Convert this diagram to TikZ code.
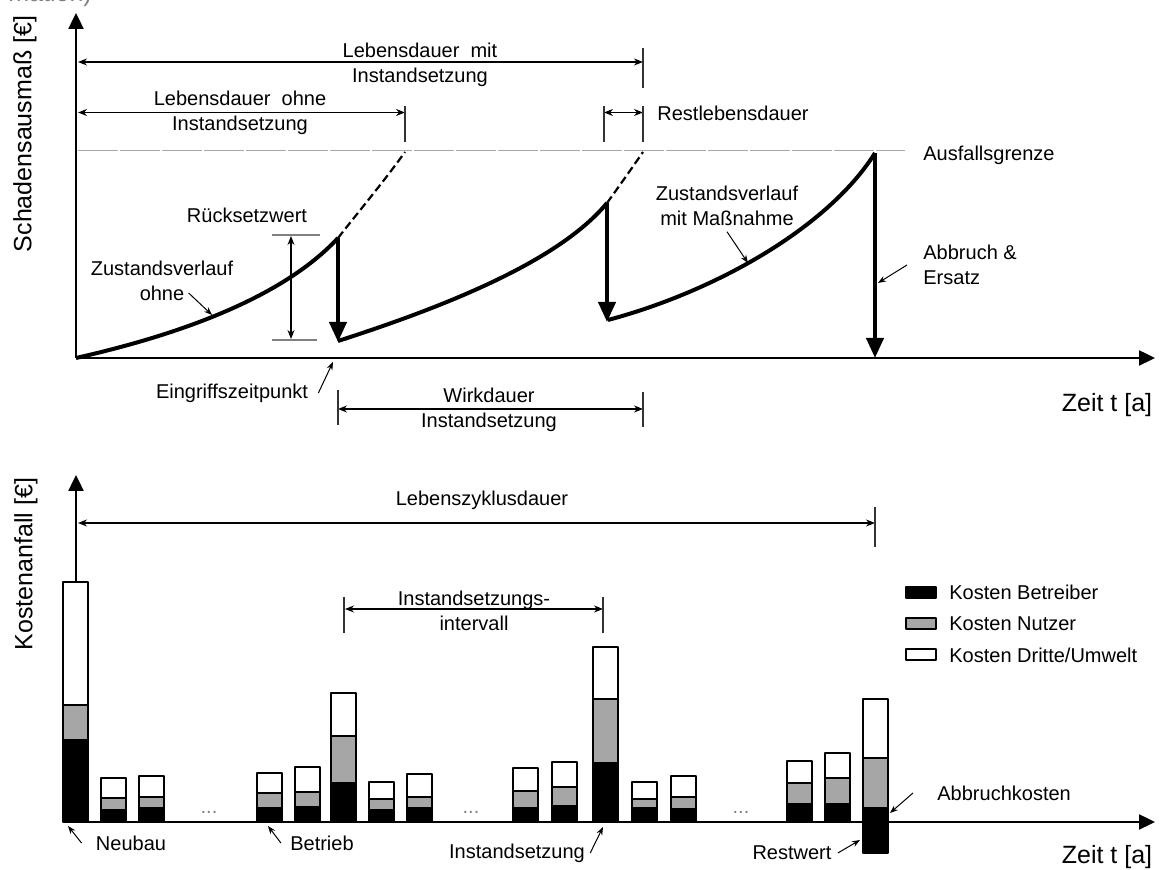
\documentclass[tikz,border=0pt]{standalone}
\usepackage{fontspec}
\setmainfont{Liberation Sans}
\usetikzlibrary{arrows.meta,positioning}
\tikzset{
  lbl/.style={font=\fontsize{10}{12.5}\selectfont, inner sep=0pt, align=center},
  big/.style={font=\fontsize{12.5}{15}\selectfont, inner sep=0pt},
  axis/.style={line width=1.2pt, -{Triangle[length=8pt,width=7.5pt]}},
  dim/.style={line width=0.6pt, {Stealth[length=4.5pt,width=3.5pt]}-{Stealth[length=4.5pt,width=3.5pt]}},
  tick/.style={line width=0.6pt, black!80},
  curve/.style={line width=2pt},
  ext/.style={line width=1.1pt, dash pattern=on 4pt off 2pt},
  drop/.style={line width=2pt, -{Triangle[length=10pt,width=8.5pt]}},
  ptr/.style={line width=0.5pt, -{Stealth[length=4pt,width=3pt]}},
  betr/.style={draw, line width=1pt, fill=black},
  nutz/.style={draw, line width=1pt, fill=black!35},
  dritt/.style={draw, line width=1pt, fill=white},
  legbox/.style={draw, line width=1pt, minimum width=15pt, minimum height=5.5pt, inner sep=0pt},
}
\begin{document}
\begin{tikzpicture}[x=0.5pt, y=-0.5pt, line join=round]
\useasboundingbox (0,0) rectangle (1169,870);
\node[big, gray, anchor=base west] (capt) at (8,2) {mation)};

% Schadensverlauf
\coordinate (o1) at (76,358);
\draw[axis] (o1) -- (76,13);
\draw[axis] (o1) -- (1155,358);
\node[big, rotate=90] (ylab1) at (25,134) {Schadensausmaß [€]};
\node[big] (zeit1) at (1107,405) {Zeit t [a]};

\draw[gray!70, line width=0.5pt, dash pattern=on 20pt off 1pt] (78,151) -- (905,151);
\node[lbl, anchor=west] (ausf) at (923,155) {Ausfallsgrenze};

\draw[dim] (78,62) -- (643,62);
\draw[tick] (643,48) -- (643,88);
\node[lbl] (lmit) at (420,64.5) {Lebensdauer\ \ mit\\Instandsetzung};
\draw[dim] (78,112.5) -- (405,112.5);
\draw[tick] (405,106) -- (405,142);
\node[lbl] (lohne) at (240,112.5) {Lebensdauer\ \ ohne\\Instandsetzung};
\draw[dim] (604,112.5) -- (643,112.5);
\draw[tick] (604,106) -- (604,142) (643,106) -- (643,142);
\node[lbl, anchor=west] (rest) at (657,113) {Restlebensdauer};

\draw[curve] (o1) .. controls (200,330) and (290,290) .. (338,238);
\draw[ext] (338,238) .. controls (360,210) and (385,180) .. (405,152);
\draw[drop] (338,238) -- (338,342);
\draw[curve] (338,341) .. controls (450,305) and (560,260) .. (607,203);
\draw[ext] (607,203) .. controls (620,185) and (632,168) .. (643,152);
\draw[drop] (607,203) -- (607,322);
\draw[curve] (608,320) .. controls (720,290) and (830,225) .. (875,153);
\draw[drop] (875,153) -- (875,358);

\draw[tick, gray] (272,235) -- (320,235) (272,340) -- (317,340);
\draw[dim] (291,236) -- (291,339);
\node[lbl] (rueck) at (247,215) {Rücksetzwert};

\node[lbl] (zohne) at (162,268) {Zustandsverlauf};
\node[lbl] (zohne2) at (162,293) {ohne};
\coordinate (pz1) at (212,315);
\draw[ptr] ([xshift=2pt]zohne2.east) -- (pz1);

\node[lbl] (zmit) at (727,205.5) {Zustandsverlauf\\mit Maßnahme};
\coordinate (pz3) at (748,263);
\draw[ptr] ([yshift=-3pt]zmit.south) -- (pz3);

\node[lbl, align=left, anchor=west] (abbr) at (923,265) {Abbruch \&\\Ersatz};
\coordinate (pab) at (878,283);
\draw[ptr] ([xshift=-8pt]abbr.west) -- (pab);

\node[lbl] (eingr) at (232,393) {Eingriffszeitpunkt};
\coordinate (pein) at (333,362);
\draw[ptr] ([xshift=5pt]eingr.east) -- (pein);

\draw[dim] (338,409) -- (643,409);
\draw[tick] (338,390) -- (338,425) (643,392) -- (643,427);
\node[lbl] (wirk) at (489,410) {Wirkdauer\\Instandsetzung};

% Kostenanfall
\coordinate (o2) at (76,822);
\draw[axis] (o2) -- (76,475);
\draw[axis] (63,822) -- (1155,822);
\node[big, rotate=90] (ylab2) at (26,564) {Kostenanfall [€]};
\node[big] (zeit2) at (1107,857) {Zeit t [a]};

\draw[dim] (78,523) -- (875,523);
\draw[tick] (875,507) -- (875,547);
\node[lbl] (lzd) at (482,500) {Lebenszyklusdauer};
\draw[dim] (345,609) -- (603,609);
\draw[tick] (344,597) -- (344,633) (603,597) -- (603,633);
\node[lbl] (isi) at (474,611) {Instandsetzungs-\\intervall};

\foreach \x/\t/\g/\b/\u in {63/582/705/740/822, 101/778/798/810/822, 139/776/797/808/822,
  257/773/793/808/822, 295/767/792/807/822, 331/693/736/783/822, 369/782/799/810/822,
  407/774/797/808/822, 513/768/791/808/822, 552/762/787/806/822, 593/647/699/763/822,
  632/782/799/808/822, 671/776/797/809/822, 787/761/783/804/822, 825/753/778/804/822,
  863/699/758/808/853}{
  \draw[dritt] (\x,\t) rectangle (\x+25,\g);
  \draw[nutz] (\x,\g) rectangle (\x+25,\b);
  \draw[betr] (\x,\b) rectangle (\x+25,\u);
}
\node[lbl, gray] (dots1) at (209,812) {...};
\node[lbl, gray] (dots2) at (471,812) {...};
\node[lbl, gray] (dots3) at (741,812) {...};

\node[legbox, fill=black] (lgb) at (921,592.5) {};
\node[legbox, fill=black!35] (lgn) at (921,623.5) {};
\node[legbox, fill=white] (lgd) at (921,655) {};
\node[lbl, right=6pt of lgb] (tgb) {Kosten Betreiber};
\node[lbl, right=6pt of lgn] (tgn) {Kosten Nutzer};
\node[lbl, right=6pt of lgd] (tgd) {Kosten Dritte/Umwelt};

\node[lbl] (neub) at (131,843) {Neubau};
\coordinate (pneu) at (68,826);
\draw[ptr] ([xshift=-7pt]neub.west) -- (pneu);
\node[lbl] (betrieb) at (322,843) {Betrieb};
\coordinate (pbet) at (268,826);
\draw[ptr] ([xshift=-4.5pt]betrieb.west) -- (pbet);
\node[lbl] (inst) at (517,853) {Instandsetzung};
\coordinate (pins) at (603,827);
\draw[ptr] ([xshift=2.5pt]inst.east) -- (pins);
\node[lbl] (restw) at (792,853) {Restwert};
\coordinate (pres) at (860,840);
\draw[ptr] ([xshift=3pt]restw.east) -- (pres);
\node[lbl, anchor=west] (abk) at (937,793) {Abbruchkosten};
\coordinate (pabk) at (890,813);
\draw[ptr] ([xshift=-12pt]abk.west) -- (pabk);
\end{tikzpicture}
\end{document}
